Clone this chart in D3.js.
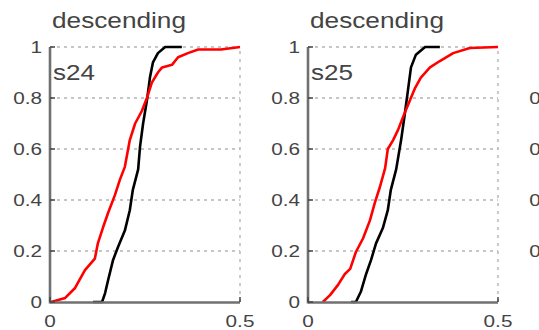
<!DOCTYPE html>
<html>
<head>
<meta charset="utf-8">
<script src="https://cdn.jsdelivr.net/npm/d3@7"></script>
<style>
  html, body { margin: 0; padding: 0; background: #fff; }
  svg { display: block; font-family: "Liberation Sans", Arial, sans-serif; }
</style>
</head>
<body>
<svg id="chart" width="539" height="330"></svg>
<script>
// Axis ticks shared by every panel
const xTicks = [0, 0.5];
const yTicks = [0, 0.2, 0.4, 0.6, 0.8, 1];
const xTickLabels = ["0", "0.5"];
const yTickLabels = ["0", "0.2", "0.4", "0.6", "0.8", "1"];

// Panel headings
const panelTitles = ["descending", "descending", "descending"];
const panelSubjects = ["s24", "s25", "s26"];

// Cumulative distributions, subject s24
const s24BlackX = [0.113, 0.137, 0.145, 0.153, 0.166, 0.179, 0.197, 0.21, 0.218, 0.232, 0.237, 0.245, 0.255, 0.263, 0.271, 0.284, 0.303, 0.347];
const s24BlackY = [0, 0, 0.035, 0.086, 0.165, 0.216, 0.28, 0.36, 0.44, 0.52, 0.61, 0.70, 0.79, 0.88, 0.94, 0.976, 1, 1];
const s24RedX = [0.003, 0.04, 0.066, 0.092, 0.118, 0.126, 0.139, 0.153, 0.171, 0.184, 0.197, 0.21, 0.224, 0.242, 0.255, 0.268, 0.284, 0.295, 0.321, 0.337, 0.363, 0.39, 0.45, 0.5];
const s24RedY = [0, 0.016, 0.055, 0.125, 0.17, 0.23, 0.29, 0.35, 0.42, 0.48, 0.53, 0.635, 0.70, 0.75, 0.80, 0.86, 0.90, 0.92, 0.93, 0.96, 0.976, 0.99, 0.99, 1];

// Cumulative distributions, subject s25
const s25BlackX = [0.113, 0.126, 0.139, 0.153, 0.166, 0.179, 0.197, 0.21, 0.218, 0.232, 0.245, 0.255, 0.263, 0.271, 0.284, 0.308, 0.347];
const s25BlackY = [0, 0, 0.04, 0.11, 0.165, 0.23, 0.29, 0.36, 0.44, 0.52, 0.635, 0.74, 0.83, 0.92, 0.97, 1, 1];
const s25RedX = [0.039, 0.058, 0.079, 0.097, 0.111, 0.126, 0.145, 0.163, 0.176, 0.189, 0.203, 0.21, 0.224, 0.237, 0.25, 0.268, 0.282, 0.297, 0.321, 0.347, 0.382, 0.426, 0.5];
const s25RedY = [0, 0.027, 0.067, 0.11, 0.13, 0.196, 0.25, 0.32, 0.39, 0.45, 0.525, 0.60, 0.635, 0.675, 0.725, 0.79, 0.84, 0.88, 0.92, 0.945, 0.976, 0.996, 1];

const panelSeries = [
  [ {x: s24BlackX, y: s24BlackY, color: "#000000"}, {x: s24RedX, y: s24RedY, color: "#ff0000"} ],
  [ {x: s25BlackX, y: s25BlackY, color: "#000000"}, {x: s25RedX, y: s25RedY, color: "#ff0000"} ],
  []
];

const svg = d3.select("#chart");

const plotW = 190, plotTop = 47, plotBottom = 302;
const panelLeft0 = 50, panelStep = 258;
const textStretch = 1.22;

const y = d3.scaleLinear().domain([0, 1]).range([plotBottom, plotTop]);

panelTitles.forEach((title, i) => {
  const left = panelLeft0 + i * panelStep;
  const x = d3.scaleLinear().domain([0, 0.5]).range([left, left + plotW]);
  const g = svg.append("g");

  // dotted grid: horizontal at each y tick, vertical at the right x tick
  g.selectAll("line.hgrid").data(yTicks.filter(t => t > 0)).join("line")
    .attr("x1", x(0)).attr("x2", x(0.5))
    .attr("y1", d => y(d)).attr("y2", d => y(d))
    .attr("stroke", "#b4b4b4").attr("stroke-width", 1.4)
    .attr("stroke-dasharray", "3,4");
  g.selectAll("line.vgrid").data(xTicks.filter(t => t > 0)).join("line")
    .attr("x1", d => x(d)).attr("x2", d => x(d))
    .attr("y1", y(0)).attr("y2", y(1))
    .attr("stroke", "#b4b4b4").attr("stroke-width", 1.4)
    .attr("stroke-dasharray", "3,5");

  // curves
  const line = d3.line().x(d => x(d[0])).y(d => y(d[1]));
  panelSeries[i].forEach(s => {
    g.append("path")
      .datum(d3.zip(s.x, s.y))
      .attr("d", line)
      .attr("fill", "none")
      .attr("stroke", s.color)
      .attr("stroke-width", 2.6)
      .attr("stroke-linejoin", "round");
  });

  // axes
  g.append("line")
    .attr("x1", x(0)).attr("x2", x(0))
    .attr("y1", y(1)).attr("y2", y(0) + 1.5)
    .attr("stroke", "#707070").attr("stroke-width", 2.6);
  g.append("line")
    .attr("x1", x(0)).attr("x2", x(0.5))
    .attr("y1", y(0) + 0.5).attr("y2", y(0) + 0.5)
    .attr("stroke", "#707070").attr("stroke-width", 2.6);

  // inward tick marks
  g.selectAll("line.ytick").data(yTicks).join("line")
    .attr("x1", x(0)).attr("x2", x(0) + 5)
    .attr("y1", d => y(d)).attr("y2", d => y(d))
    .attr("stroke", "#444").attr("stroke-width", 1.5);
  g.selectAll("line.xtick").data(xTicks).join("line")
    .attr("x1", d => x(d)).attr("x2", d => x(d))
    .attr("y1", y(0)).attr("y2", y(0) - 5)
    .attr("stroke", "#444").attr("stroke-width", 1.5);

  // tick labels
  g.selectAll("g.ylab").data(yTicks).join("g")
    .attr("transform", d => `translate(${x(0) - 8},${y(d)}) scale(${textStretch},1)`)
    .append("text")
    .attr("text-anchor", "end").attr("dy", "0.36em")
    .attr("font-size", 17).attr("fill", "#444")
    .text((d, j) => yTickLabels[j]);
  g.selectAll("g.xlab").data(xTicks).join("g")
    .attr("transform", d => `translate(${x(d)},${plotBottom + 25}) scale(${textStretch},1)`)
    .append("text")
    .attr("text-anchor", "middle")
    .attr("font-size", 17).attr("fill", "#444")
    .text((d, j) => xTickLabels[j]);

  // title and subject tag
  if (panelSeries[i].length) {
    g.append("text")
      .attr("x", left + 2).attr("y", 28)
      .attr("font-size", 22).attr("fill", "#444")
      .attr("textLength", 134).attr("lengthAdjust", "spacingAndGlyphs")
      .text(title);
    g.append("text")
      .attr("x", left + 3).attr("y", 80)
      .attr("font-size", 22).attr("fill", "#444")
      .attr("textLength", 42).attr("lengthAdjust", "spacingAndGlyphs")
      .text(panelSubjects[i]);
  }
});
</script>
</body>
</html>
